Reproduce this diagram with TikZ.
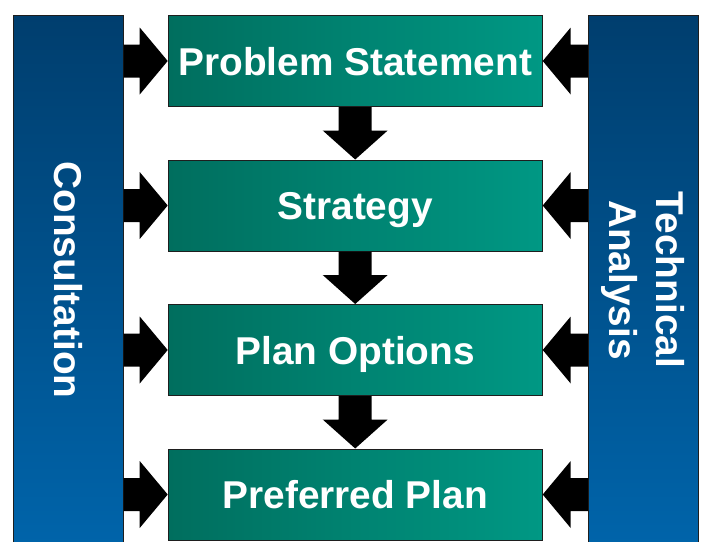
\documentclass[tikz,border=0pt]{standalone}
\usepackage{fontspec}
\setmainfont{Liberation Sans}
\usetikzlibrary{calc}
\definecolor{bar_top}{RGB}{0, 62, 110}
\definecolor{bar_bot}{RGB}{0, 100, 170}
\definecolor{box_left}{RGB}{0, 110, 94}
\definecolor{box_right}{RGB}{0, 152, 132}
\definecolor{edge_gray}{RGB}{30, 30, 30}
\tikzstyle{stage}=[rectangle,draw=edge_gray,line width=1pt,
  left color=box_left,right color=box_right,text=white,
  font=\fontsize{38.8}{47}\selectfont\bfseries,
  minimum width=374pt,minimum height=91pt,text height=28pt,text depth=0pt,inner sep=0pt]
\tikzstyle{side}=[rectangle,draw=edge_gray,line width=1pt,
  top color=bar_top,bottom color=bar_bot,
  minimum width=110pt,minimum height=530pt,inner sep=0pt]
\tikzstyle{sidetext}=[rotate=-90,text=white,align=center,inner sep=0pt,
  font=\fontsize{38.8}{47}\selectfont\bfseries]
% fat arrow sideways, from a bar edge to a box edge
\newcommand{\sidearrow}[2]{%
  \fill[black] let \p1=(#1), \p2=(#2), \n1={sign(\x2-\x1)} in
    (\x1,{\y2+16.5pt}) -- ({\x2-(\n1)*28pt},{\y2+16.5pt})
    -- ({\x2-(\n1)*28pt},{\y2+33.5pt}) -- (\p2)
    -- ({\x2-(\n1)*28pt},{\y2-33.5pt}) -- ({\x2-(\n1)*28pt},{\y2-16.5pt})
    -- (\x1,{\y2-16.5pt}) -- cycle;}
% fat arrow down, from one box to the next
\newcommand{\steparrow}[2]{%
  \fill[black] let \p1=(#1), \p2=(#2) in
    ({\x2-16.5pt},\y1) -- ({\x2-16.5pt},{\y2+29pt})
    -- ({\x2-32.5pt},{\y2+29pt}) -- (\p2)
    -- ({\x2+32.5pt},{\y2+29pt}) -- ({\x2+16.5pt},{\y2+29pt})
    -- ({\x2+16.5pt},\y1) -- cycle;}

\begin{document}
\begin{tikzpicture}[x=1pt, y=-1pt]
    \useasboundingbox (0, 0) rectangle (701, 541);
    \node [style=side, label={[sidetext]center:Consultation}] (cons) at (68, 280) {};
    \node [style=side, label={[sidetext]center:Technical\\Analysis}] (tech) at (643.5, 280) {};
    \node [style=stage] (ps) at (355.2, 61) {Problem Statement};
    \node [style=stage] (strat) at (355.2, 205.5) {Strategy};
    \node [style=stage] (opts) at (355.2, 350) {Plan Options};
    \node [style=stage] (pref) at (355.2, 494.5) {Preferred Plan};
    \steparrow{ps.south}{strat.north}
    \steparrow{strat.south}{opts.north}
    \steparrow{opts.south}{pref.north}
    \foreach \b in {ps, strat, opts, pref} {
        \sidearrow{cons.east}{\b.west}
        \sidearrow{tech.west}{\b.east}
    }
\end{tikzpicture}
\end{document}
